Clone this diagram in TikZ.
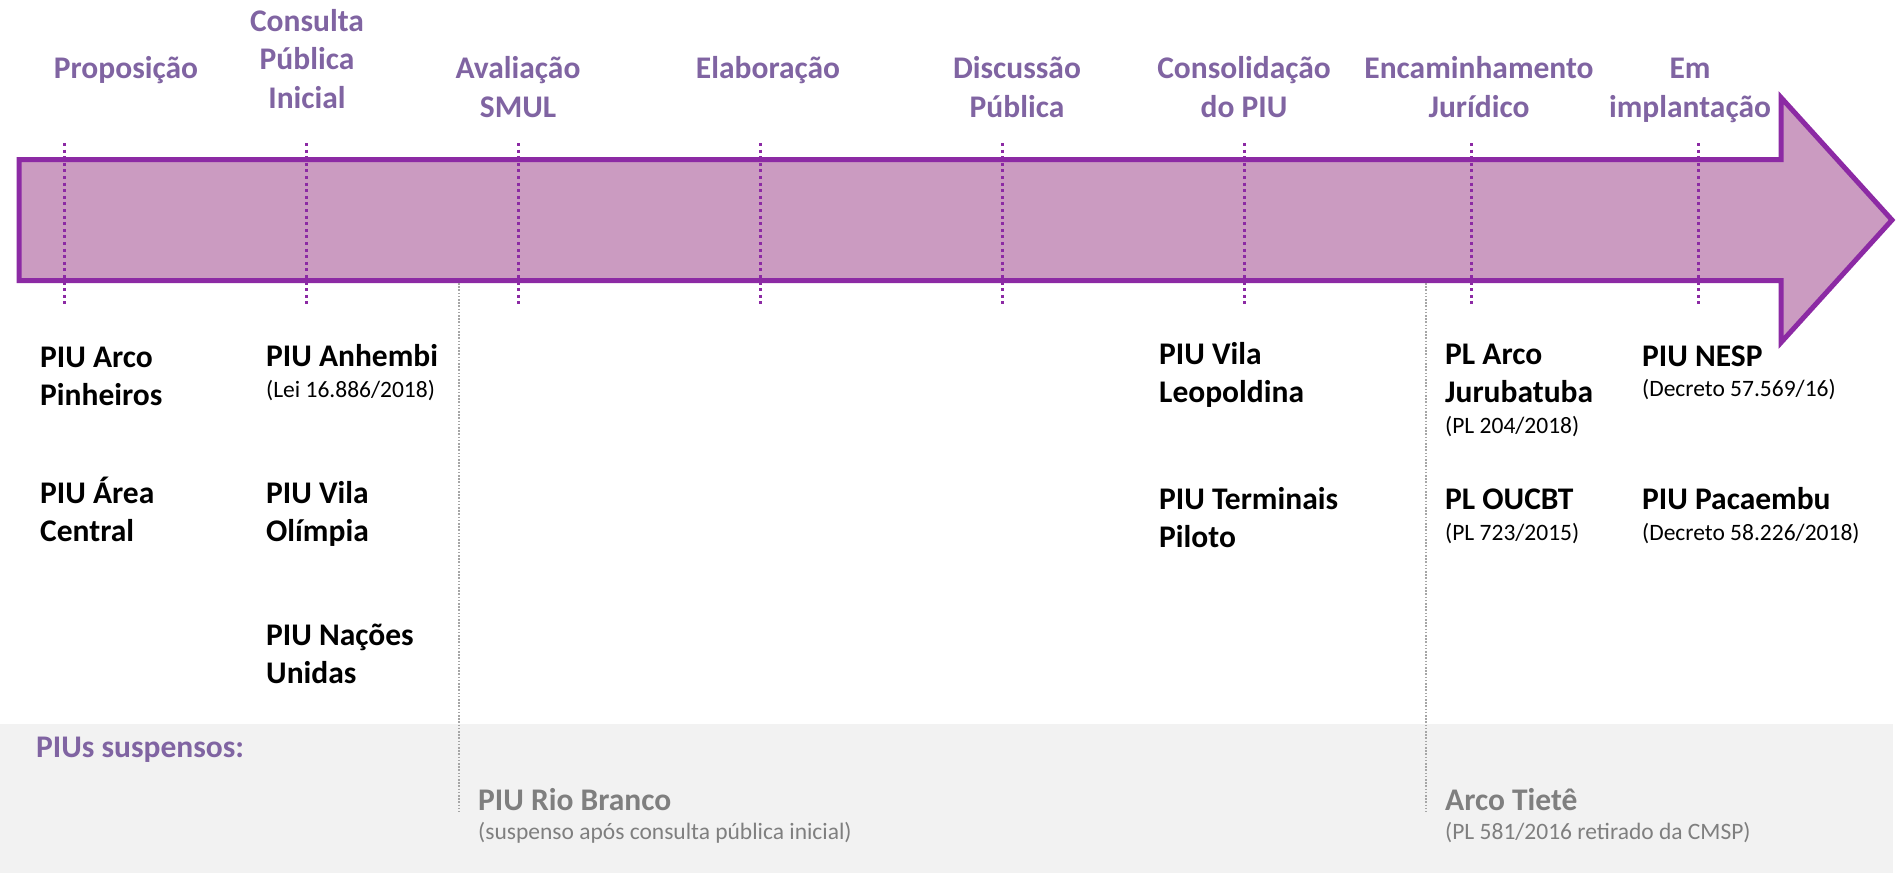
\documentclass[tikz,border=0pt]{standalone}
\usepackage{fontspec}
\setmainfont{Carlito}
\definecolor{hdrpurple}{HTML}{8064A2}
\definecolor{arrowline}{HTML}{8C2AA4}
\definecolor{arrowfill}{HTML}{CB9BC1}
\definecolor{bandgray}{HTML}{F2F2F2}
\definecolor{txtgray}{HTML}{7F7F7F}
\definecolor{linegray}{HTML}{A6A6A6}
\begin{document}
\begin{tikzpicture}[x=1pt,y=-1pt,
  hdr/.style={font=\fontsize{31.5}{38.5}\selectfont\bfseries, text=hdrpurple, align=center, inner sep=0pt, anchor=base},
  item/.style={font=\fontsize{31.5}{38}\selectfont\bfseries, text=black, align=left, inner sep=0pt, anchor=base west},
  note/.style={font=\fontsize{23.5}{28}\selectfont, text=black, inner sep=0pt, anchor=base west},
  gitem/.style={item, text=txtgray},
  gnote/.style={note, text=txtgray},
  stageline/.style={draw=arrowline, line width=3pt, dash pattern=on 3pt off 3.6pt},
  suspline/.style={draw=linegray, line width=1.3pt, dash pattern=on 1.6pt off 1.6pt}
]
\useasboundingbox (0,0) rectangle (1897,873);
% band
\fill[bandgray] (0,724) rectangle (1893,873);
% arrow
\draw[draw=arrowline, fill=arrowfill, line width=5pt, line join=miter]
  (19,159.5) -- (1781,159.5) -- (1781,97.5) -- (1892,220) -- (1781,342.5) -- (1781,280.5) -- (19,280.5) -- cycle;
% stage markers
\foreach \n/\x in {a/64,b/306,c/518,d/760,e/1002,f/1244,g/1471,h/1698}{
  \coordinate (\n top) at (\x,143);
  \coordinate (\n bot) at (\x,308);
  \draw[stageline] (\n top) -- (\n bot);
}
% suspension markers
\coordinate (s1top) at (459,283);
\coordinate (s1bot) at (459,812);
\coordinate (s2top) at (1426,283);
\coordinate (s2bot) at (1426,812);
\draw[suspline] (s1top) -- (s1bot);
\draw[suspline] (s2top) -- (s2bot);
% headers (anchor = baseline of last line)
\node[hdr] (h1) at (126,78) {Proposição};
\node[hdr] (h2) at (307,108) {Consulta\\Pública\\Inicial};
\node[hdr] (h3) at (518,117) {Avaliação\\SMUL};
\node[hdr] (h4) at (768,78) {Elaboração};
\node[hdr] (h5) at (1017,117) {Discussão\\Pública};
\node[hdr] (h6) at (1244,117) {Consolidação\\do PIU};
\node[hdr] (h7) at (1479,117) {Encaminhamento\\Jurídico};
\node[hdr] (h8) at (1690,117) {Em\\implantação};
% column 1
\node[item] (p1) at (40,405) {PIU Arco\\Pinheiros};
\node[item] (p2) at (40,541) {PIU Área\\Central};
% column 2
\node[item] (q1) at (266,366) {PIU Anhembi};
\node[note] (q1n) at (266,397) {(Lei 16.886/2018)};
\node[item] (q2) at (266,541) {PIU Vila\\Olímpia};
\node[item] (q3) at (266,683) {PIU Nações\\Unidas};
% consolidacao
\node[item] (r1) at (1159,402) {PIU Vila\\Leopoldina};
\node[item] (r2) at (1159,547) {PIU Terminais\\Piloto};
% encaminhamento
\node[item] (s1) at (1445,402) {PL Arco\\Jurubatuba};
\node[note] (s1n) at (1445,433) {(PL 204/2018)};
\node[item] (s2) at (1445,509) {PL OUCBT};
\node[note] (s2n) at (1445,540) {(PL 723/2015)};
% em implantacao
\node[item] (t1) at (1642,366) {PIU NESP};
\node[note] (t1n) at (1642,396) {(Decreto 57.569/16)};
\node[item] (t2) at (1642,509) {PIU Pacaembu};
\node[note] (t2n) at (1642,540) {(Decreto 58.226/2018)};
% suspensos
\node[item, text=hdrpurple] (sus) at (36,757) {PIUs suspensos:};
\node[gitem] (u1) at (478,810) {PIU Rio Branco};
\node[gnote] (u1n) at (478,839) {(suspenso após consulta pública inicial)};
\node[gitem] (u2) at (1445,810) {Arco Tietê};
\node[gnote] (u2n) at (1445,839) {(PL 581/2016 retirado da CMSP)};
\end{tikzpicture}
\end{document}
